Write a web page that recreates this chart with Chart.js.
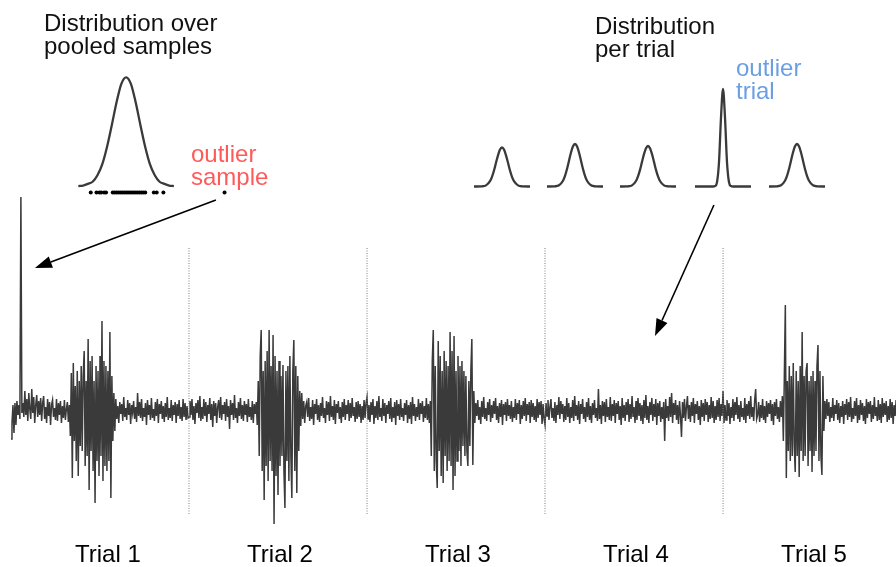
<!DOCTYPE html>
<html lang="en">
<head>
<meta charset="utf-8">
<title>Outlier sample vs outlier trial</title>
<script src="https://cdn.jsdelivr.net/npm/chart.js@4.4.1/dist/chart.umd.min.js"></script>
<style>
    body { margin: 0; background: #fff; }
    .page { position: relative; width: 896px; height: 567px; overflow: hidden;
            font-family: "Liberation Sans", Arial, sans-serif; }
    .page canvas { position: absolute; }
    .note { position: absolute; font-size: 24px; line-height: 23px; color: #111; white-space: nowrap; }
    .note.red { color: #ff5a5a; }
    .note.blue { color: #6b9fe3; }
    #signalChart { left: 0; top: 0; }
    #pooledChart { left: 60px; top: 60px; }
    .trial-dist { top: 80px; }
</style>
</head>
<body>
<div class="page">
    <canvas id="signalChart" width="896" height="567"></canvas>
    <canvas id="pooledChart" width="180" height="150"></canvas>
    <canvas class="trial-dist" id="trialDist0" width="60" height="110" style="left:472px"></canvas>
    <canvas class="trial-dist" id="trialDist1" width="60" height="110" style="left:545px"></canvas>
    <canvas class="trial-dist" id="trialDist2" width="60" height="110" style="left:618px"></canvas>
    <canvas class="trial-dist" id="trialDist3" width="60" height="110" style="left:693px"></canvas>
    <canvas class="trial-dist" id="trialDist4" width="60" height="110" style="left:767px"></canvas>

    <div class="note" style="left:44px; top:11px">Distribution over<br>pooled samples</div>
    <div class="note" style="left:595px; top:14px">Distribution<br>per trial</div>
    <div class="note red" style="left:191px; top:142px">outlier<br>sample</div>
    <div class="note blue" style="left:736px; top:56px">outlier<br>trial</div>
</div>

<script>
// ---- Data (amplitude units, baseline = 0) ----
const trialNames = ['Trial 1', 'Trial 2', 'Trial 3', 'Trial 4', 'Trial 5'];
const samplesPerTrial = 180;
const visibleSamples = 894.9;
const trialLabelAt = [98, 272, 452, 632, 812];
const trialBounds = [180, 360, 540, 720];
const boundExtent = [163, -104];

const trial1Signal = [
    -28, -12, 6, -22, 8, -14, 10, -4, 6, -8, 214, -2, 8, -6, 20, -4, 12, -10, 18, 2,
    -8, 22, -2, 14, -12, 6, 16, -6, 10, -4, 13, -10, 8, 15, -8, 4, -12, 12, -5, 9,
    -14, 6, 11, -6, 3, -9, 12, -10, 8, -4, 10, -12, 5, -7, 11, -9, 2, 9, -11, 6,
    -25, 38, -67, 48, -30, 25, -50, 40, -65, 30, -35, 45, -40, 35, 60, -55, 30, -45, 72, -79,
    50, -40, 55, -60, 30, -92, 45, -50, 40, -65, 55, -45, 90, -70, 50, -55, 45, -60, 40, -50,
    79, -87, 35, -30, 18, -20,
    12, -8, 5, -12, 9, -3, 7, -10, 14, -6, 3, -9, 11, -4, 8, -13, 6, -2, 10, -8,
    4, -11, 18, -5, 9, -7, 12, -10, 3, -6, 8, -14, 11, -4, 6, -9, 13, -7, 2, -10,
    9, -5, 12, -12, 7, -3, 10, -8, 5, -11, 8, -6, 14, -9, 3, -7, 11, -10, 6, -4,
    9, -12, 7, -5, 11, -8, 4, -10, 12, -6, 8, -9, 5, -7
];
const trial2Signal = [
    -6, 10, -4, 12, -9, 5, -13, 8, -2, 11, -7, 15, -10, 4, -8, 12, -5, 9, -11, 6,
    -3, 13, -9, 7, -16, 10, -5, 8, -12, 4, 11, -7, 14, -9, 6, -3, 9, -10, 12, -6,
    5, -18, 11, -4, 8, -9, 16, -7, 3, -12, 9, -5, 13, -8, 6, -10, 10, -4, 7, -11,
    12, -6, 4, -9, 10, -12, 7, -3, 9, -14,
    30, -45, 55, 81, -60, 40, -89, 50, -55, 60, -70, 81, -50, 45, -60, 76, -113, 55, -65, 40,
    -84, 50, -55, 35, -45, 46, -60, -97, 40, -50, 45, -70, 55, -45, -87, 40, 71, -60, 45, -82,
    35, -40, 20,
    -15, 18, -8, 10, -12, 5, 9, -6, 13, -10, 4, -8, 11, -14, 7, -3, 12, -9, 6, -11,
    8, -5, 14, -7, 3, -12, 10, -4, 9, -10, 15, -6, 5, -9, 11, -13, 7, -2, 10, -8,
    4, -12, 9, -6, 12, -9, 6, -3, 11, -10, 8, -7, 13, -5, 4, -11, 9, -8, 10, -6,
    7, -12, 5, -9, 11, -7, 8
];
const trial3Signal = [
    14, -8, 6, -11, 9, -4, 12, -13, 5, -7, 10, -9, 15, -6, 3, -10, 12, -5, 8, -12,
    6, -3, 10, -8, 13, -11, 4, -7, 9, -14, 11, -5, 7, -9, 12, -6, 3, -10, 8, -4,
    11, -12, 6, -8, 9, -13, 14, -5, 7, -10, 4, -6, 12, -9, 8, -3, 10, -11, 5, -7,
    13, -9, 7, -12, 10,
    -45, 50, 81, -60, 45, -50, -77, 70, -40, 55, -65, 40, -72, 60, -45, 50, -60, 45, -50, 79,
    -55, 60, -79, 75, -65, 40, -50, 55, -40, 45, -55, 50, -35, 40, -45, 35, -40, -55, 30, -35,
    40, 72, -54, 20,
    -12, 8, -5, 11, -9, 4, -13, 10, -6, 14, -8, 3, -10, 9, -4, 12, -11, 6, -7, 10,
    -3, 13, -9, 5, -12, 8, -6, 11, -14, 7, -4, 9, -10, 12, -5, 6, -8, 10, -11, 4,
    -7, 12, -9, 8, -3, 11, -13, 6, -8, 10, -5, 13, -10, 7, -4, 9, -12, 11, -6, 8,
    -9, 5, -11, 12, -7, 9, -4, 10, -13, 7, -8
];
const trial4Signal = [
    -14, 8, -5, 11, -9, 4, 12, -7, 3, -10, 9, -12, 6, -4, 14, -8, 10, -3, 7, -11,
    5, -9, 13, -6, 8, -12, 4, -7, 11, -10, 15, -5, 6, -9, 10, -13, 7, -3, 12, -8,
    4, -11, 9, -6, 13, -9, 5, -12, 8, -4, 11, -7, 3, -10, 22, -8, 6, -13, 10, -5,
    9, -11, 12, -6, 4, -9, 14, -10, 7, -5, 11, -12, 8, -3, 10, -9, 5, -14, 13, -7,
    6, -10, 9, -4, 12, -11, 7, -8, 15, -6, 4, -12, 10, -9, 13, -5, 8, -10, 6, -13,
    11, -7, 16, -9, 5, -12, 9, -4, 13, -10, 7, -6, 12, -14, 8, -5, 10, -11, 4, -8,
    9, -30, 12, -7, 5, -10, 14, -6, 18, -12, 8, -4, 11, -9, 6, -13, 10, -5, -26, 9,
    -7, 12, -10, 4, 15, -8, 6, -11, 9, -5, 13, -12, 7, -3, 10, -9, 5, -14, 11, -6,
    8, -10, 12, -4, 9, -11, 6, -8, 14, -7, 10, -12, 5, -9, 11, -6, 13, -10, 7, -5
];
const trial5Signal = [
    20, -12, 6, -9, 11, -5, 8, -13, 4, -7, 12, -10, 9, -4, 14, -8, 6, -11, 10, -6,
    3, -9, 13, -12, 7, -5, 10, -8, 15, -6, 4, -10, 11, 22, -8, -4, 9, -11, 6, -7,
    12, -9, 5, -12, 10, -6, 8, -3, 11, -10, 7, -14, 9, -5, 12, -8, 4, -11, 10, -6,
    15, -30, 35, 106, -67, 30, -40, 45, -50, 35, -45, 48, -35, -61, 40, -45, 30, -66, 45, -40,
    79, -50, 35, -45, 40, 48, -55, 30, -40, 35, -61, 40, -45, 30, -40, 45, 66, -50, 40, -45,
    -64, 35, -20,
    10, -8, 12, -5, 9, -11, 4, -7, 13, -10, 6, -3, 11, -9, 8, -12, 5, -6, 10, -13,
    7, -4, 12, -9, 9, -6, 14, -11, 3, -8, 10, -5, 13, -12, 6, -9, 11, -4, 8, -10,
    5, -13, 12, -7, 9, -3, 10, -11, 6, -8, 14, -5, 4, -10, 11, -9, 7, -12, 13, -6,
    8, -4, 10, -11, 5, -9, 12, -7, 9, -13, 6, -5, 11, -8, 7, -10, 9
];
const trialSignals = [trial1Signal, trial2Signal, trial3Signal, trial4Signal, trial5Signal];

// pooled distribution: density curve + rug of samples
const pooledDensityX = [-50, -45, -40, -35, -30, -25, -20, -15, -10, -5, 0, 5, 10, 15, 20, 25, 30, 35, 40, 45, 50];
const pooledDensityY = [0, 0.5, 2, 4, 10, 20, 36, 56, 77, 94, 100, 94, 77, 56, 36, 20, 10, 4, 2, 0.5, 0];
const pooledSamples = [-37, -31, -28, -26, -23, -21, -14, -12, -10, -8, -6, -4, -2, 0, 2, 4, 6, 8,
                       10, 12, 14, 16, 18, 20, 29, 32, 39];
const outlierSample = 103;
const rugLevel = -6;

// per-trial distributions
const trialDensityX = [-28, -20, -16, -12, -10, -8, -6, -4, -2, 0, 2, 4, 6, 8, 10, 12, 16, 20, 28];
const trialDensity1 = [0, 0.2, 1.1, 5.3, 9.7, 16, 23.7, 31.2, 36.9, 39, 36.9, 31.2, 23.7, 16, 9.7, 5.3, 1.1, 0.2, 0];
const trialDensity2 = [0, 0.2, 1.2, 5.7, 10.6, 17.5, 25.8, 34, 40.2, 42.5, 40.2, 34, 25.8, 17.5, 10.6, 5.7, 1.2, 0.2, 0];
const trialDensity3 = [0, 0.2, 1.1, 5.5, 10.1, 16.6, 24.6, 32.4, 38.3, 40.5, 38.3, 32.4, 24.6, 16.6, 10.1, 5.5, 1.1, 0.2, 0];
const trialDensity4 = [0, 0, 0, 0, 0, 0.4, 4.3, 24.3, 69, 97.5, 69, 24.3, 4.3, 0.4, 0, 0, 0, 0, 0];
const trialDensity5 = [0, 0.2, 1.2, 5.7, 10.6, 17.5, 25.8, 34, 40.2, 42.5, 40.2, 34, 25.8, 17.5, 10.6, 5.7, 1.2, 0.2, 0];
const trialDensities = [trialDensity1, trialDensity2, trialDensity3, trialDensity4, trialDensity5];

// arrows in signal-chart value space: [sample, amplitude]
const arrows = [
    { from: [207.2, 211], to: [24.2, 143] },
    { from: [710.8, 206], to: [651.2, 75] }
];

const lineColor = '#3a3a3a';

document.addEventListener('DOMContentLoaded', function() {
    createSignalChart();
    createPooledChart();
    createTrialCharts();
});

// Draw the two arrows on top of the signal
const arrowPlugin = {
    id: 'arrows',
    afterDatasetsDraw(chart) {
        const ctx = chart.ctx;
        const x = chart.scales.x, y = chart.scales.y;
        ctx.save();
        ctx.strokeStyle = '#000';
        ctx.fillStyle = '#000';
        ctx.lineWidth = 1.6;
        arrows.forEach(a => {
            const x0 = x.getPixelForValue(a.from[0]), y0 = y.getPixelForValue(a.from[1]);
            const x1 = x.getPixelForValue(a.to[0]), y1 = y.getPixelForValue(a.to[1]);
            const ang = Math.atan2(y1 - y0, x1 - x0);
            const len = 17, half = 6;
            const bx = x1 - len * Math.cos(ang), by = y1 - len * Math.sin(ang);
            ctx.beginPath();
            ctx.moveTo(x0, y0);
            ctx.lineTo(bx, by);
            ctx.stroke();
            ctx.beginPath();
            ctx.moveTo(x1, y1);
            ctx.lineTo(bx + half * Math.sin(ang), by - half * Math.cos(ang));
            ctx.lineTo(bx - half * Math.sin(ang), by + half * Math.cos(ang));
            ctx.closePath();
            ctx.fill();
        });
        ctx.restore();
    }
};

function baseOptions() {
    return {
        responsive: false,
        animation: false,
        events: [],
        layout: { padding: 0 },
        plugins: { legend: { display: false }, tooltip: { enabled: false } },
        elements: { point: { radius: 0 } }
    };
}

function createSignalChart() {
    const points = [];
    trialSignals.forEach((sig, k) => {
        sig.forEach((v, j) => points.push({ x: k * samplesPerTrial + j, y: v }));
    });

    const boundSets = trialBounds.map(b => ({
        data: [{ x: b, y: boundExtent[0] }, { x: b, y: boundExtent[1] }],
        borderColor: '#808080',
        borderWidth: 1,
        borderDash: [1, 1.5],
        pointRadius: 0
    }));

    const opts = baseOptions();
    opts.layout = { padding: { top: 188, left: 11, right: 0, bottom: 0 } };
    opts.scales = {
        x: {
            type: 'linear', min: 0, max: visibleSamples,
            grid: { display: false, drawTicks: false },
            border: { display: false },
            afterBuildTicks: axis => { axis.ticks = trialLabelAt.map(v => ({ value: v })); },
            afterFit: axis => { axis.height = 38; },
            ticks: {
                autoSkip: false, maxRotation: 0, padding: 14, color: '#000',
                font: { family: 'Liberation Sans', size: 24, lineHeight: 1 },
                callback: (v, i) => trialNames[i]
            }
        },
        y: { display: false, min: -118, max: 223 }
    };

    new Chart(document.getElementById('signalChart'), {
        type: 'line',
        data: {
            datasets: boundSets.concat([{
                data: points,
                borderColor: lineColor,
                borderWidth: 1.5,
                pointRadius: 0,
                tension: 0
            }])
        },
        options: opts,
        plugins: [arrowPlugin]
    });
}

function createPooledChart() {
    const opts = baseOptions();
    opts.scales = {
        x: { type: 'linear', display: false, min: -65, max: 115 },
        y: { display: false, min: -18.3, max: 112.2 }
    };
    const rug = pooledSamples.concat([outlierSample]).map(v => ({ x: v, y: rugLevel }));

    new Chart(document.getElementById('pooledChart'), {
        type: 'line',
        data: {
            datasets: [{
                data: pooledDensityX.map((v, i) => ({ x: v, y: pooledDensityY[i] })),
                borderColor: lineColor,
                borderWidth: 2.3,
                cubicInterpolationMode: 'monotone'
            }, {
                data: rug,
                showLine: false,
                pointRadius: 2,
                pointBackgroundColor: '#000',
                pointBorderWidth: 0
            }]
        },
        options: opts
    });
}

function createTrialCharts() {
    trialDensities.forEach((dens, k) => {
        const opts = baseOptions();
        opts.scales = {
            x: { type: 'linear', display: false, min: -30, max: 30 },
            y: { display: false, min: -3.5, max: 106.5 }
        };
        new Chart(document.getElementById('trialDist' + k), {
            type: 'line',
            data: {
                datasets: [{
                    data: trialDensityX.map((v, i) => ({ x: v, y: dens[i] })),
                    borderColor: lineColor,
                    borderWidth: 2.3,
                    cubicInterpolationMode: 'monotone'
                }]
            },
            options: opts
        });
    });
}
</script>
</body>
</html>
